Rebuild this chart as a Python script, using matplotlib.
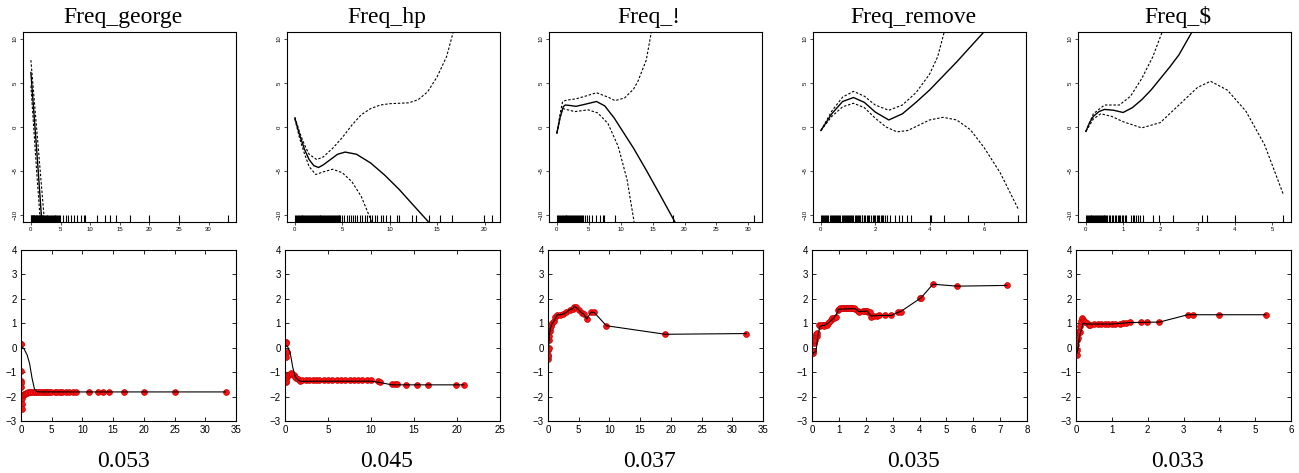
import numpy as np
import matplotlib.pyplot as plt

plt.rcParams['font.family'] = ['Liberation Sans', 'DejaVu Sans']

# panel titles and the score printed under each column
titles = ["Freq_george", "Freq_hp", "Freq_!", "Freq_remove", "Freq_$"]
scores = ["0.053", "0.045", "0.037", "0.035", "0.033"]

# tick positions
top_xticks = [[0, 5, 10, 15, 20, 25, 30], [0, 5, 10, 15, 20], [0, 5, 10, 15, 20, 25, 30],
              [0, 2, 4, 6], [0, 1, 2, 3, 4, 5]]
top_yticks = [-10, -5, 0, 5, 10]
bot_xticks = [[0, 5, 10, 15, 20, 25, 30, 35], [0, 5, 10, 15, 20, 25], [0, 5, 10, 15, 20, 25, 30, 35],
              [0, 1, 2, 3, 4, 5, 6, 7, 8], [0, 1, 2, 3, 4, 5, 6]]
bot_yticks = [-3, -2, -1, 0, 1, 2, 3, 4]

# ---------------- Freq_george ----------------
george_rug = [0.0, 0.08, 0.15, 0.22, 0.3, 0.38, 0.45, 0.52, 0.6, 0.7, 0.8, 0.9, 1.0, 1.1, 1.2, 1.3,
              1.4, 1.5, 1.6, 1.7, 1.8, 1.9, 2.0, 2.12, 2.25, 2.4, 2.52, 2.65, 2.8, 2.95, 3.1, 3.25,
              3.4, 3.55, 3.7, 3.85, 4.0, 4.15, 4.3, 4.45, 4.6, 4.75, 4.9, 5.5, 5.9, 6.3, 6.75, 7.3,
              7.8, 8.4, 9.0, 9.2, 11.1, 12.5, 13.3, 14.3, 16.7, 20.0, 25.0, 33.3]
george_fit_x = [0.0, 0.5, 1.0, 1.5, 1.85]
george_fit_y = [6.2, 1.7, -2.8, -7.5, -10.8]
george_up_x = [0.0, 0.6, 1.2, 1.8, 2.3]
george_up_y = [7.6, 2.8, -2.0, -6.8, -10.8]
george_lo_x = [0.0, 0.5, 1.0, 1.6]
george_lo_y = [4.7, -0.3, -5.3, -10.8]
george_pts_x = [0.0, 0.03, 0.0, 0.02, 0.03, 0.05, 0.05, 0.08, 0.1, 0.1,
                0.15, 0.2, 0.3, 0.45, 0.6, 0.8, 1.0, 1.2, 1.4, 1.6,
                1.9, 2.2, 2.5, 2.8, 3.1, 3.4, 3.7, 4.0, 4.3, 4.6,
                4.9, 5.5, 5.9, 6.3, 6.75, 7.3, 7.8, 8.4, 9.0,
                11.1, 12.5, 13.3, 14.3, 16.7, 20.0, 25.0, 33.3]
george_pts_y = [0.15, 0.15, -0.95, -1.35, -1.45, -1.6, -2.0, -2.15, -2.3, -2.5,
                -2.05, -1.95, -1.92, -1.9, -1.88, -1.86, -1.84, -1.83, -1.82, -1.81,
                -1.8, -1.8, -1.8, -1.8, -1.8, -1.8, -1.8, -1.8, -1.8, -1.8,
                -1.8, -1.8, -1.8, -1.8, -1.8, -1.8, -1.8, -1.8, -1.8,
                -1.8, -1.8, -1.8, -1.8, -1.8, -1.8, -1.8, -1.8]
george_line_x = [0.0, 0.5, 1.0, 1.4, 1.8, 2.2, 2.6, 3.0, 33.3]
george_line_y = [0.05, -0.05, -0.3, -0.65, -1.25, -1.7, -1.8, -1.81, -1.81]

# ---------------- Freq_hp ----------------
hp_rug = [0.0, 0.1, 0.2, 0.3, 0.4, 0.5, 0.6, 0.7, 0.8, 0.9, 1.0, 1.1, 1.2, 1.3, 1.4, 1.5, 1.6,
          1.7, 1.8, 1.9, 2.0, 2.1, 2.2, 2.3, 2.4, 2.5, 2.6, 2.7, 2.8, 2.9, 3.0, 3.1, 3.2, 3.3,
          3.4, 3.5, 3.6, 3.7, 3.8, 3.9, 4.0, 4.1, 4.2, 4.3, 4.4, 4.5, 4.6, 4.7, 4.8, 5.0, 5.2,
          5.45, 5.7, 5.9, 6.1, 6.35, 6.6, 6.85, 7.1, 7.4, 7.6, 7.9, 8.1, 8.4, 8.7, 9.1, 9.3,
          9.6, 10.0, 10.8, 11.0, 12.4, 12.8, 14.1, 15.3, 16.6, 19.9, 20.8]
hp_fit_x = [0.0, 0.5, 1.0, 1.5, 2.0, 2.5, 3.0, 3.5, 4.5, 5.3, 6.5, 8.0, 9.5, 11.0, 12.5, 14.1]
hp_fit_y = [1.0, -0.9, -2.5, -3.7, -4.4, -4.6, -4.3, -3.9, -3.1, -2.85, -3.1, -4.1, -5.5, -7.1, -8.9, -10.8]
hp_up_x = [0.0, 0.5, 1.0, 1.5, 2.3, 3.0, 4.0, 5.0, 6.0, 7.0, 8.0, 9.0, 10.0, 11.0, 12.0, 13.0,
           14.0, 15.0, 16.0, 16.7]
hp_up_y = [1.1, -0.6, -2.0, -3.1, -3.7, -3.4, -2.4, -1.2, 0.2, 1.4, 2.1, 2.5, 2.65, 2.7, 2.75,
           3.1, 4.0, 5.7, 8.0, 10.8]
hp_lo_x = [0.0, 0.5, 1.0, 1.5, 2.2, 3.0, 4.0, 5.0, 6.0, 7.0, 7.5, 8.1]
hp_lo_y = [0.9, -1.3, -3.0, -4.5, -5.4, -5.1, -4.8, -5.2, -6.2, -7.9, -9.2, -10.8]
hp_pts_x = [0.0, 0.04, 0.08, 0.12, 0.2, 0.1, 0.05, 0.1, 0.15, 0.25,
            0.4, 0.55, 0.7, 0.85, 1.0, 1.15, 1.3, 1.5, 1.75, 2.0,
            2.4, 2.8, 3.2, 3.6, 4.0, 4.5, 5.0, 5.5, 6.0, 6.5,
            7.0, 7.5, 8.0, 8.5, 9.0, 9.5, 10.0,
            10.8, 11.0, 12.4, 12.8, 13.0, 14.1, 15.3, 16.6, 19.9, 20.8]
hp_pts_y = [0.22, 0.2, 0.22, 0.18, -0.17, -0.4, -1.25, -1.4, -1.35, -1.2,
            -1.12, -1.08, -1.05, -1.08, -1.12, -1.18, -1.25, -1.3, -1.35, -1.33,
            -1.32, -1.32, -1.32, -1.32, -1.32, -1.32, -1.32, -1.32, -1.32, -1.32,
            -1.31, -1.31, -1.31, -1.31, -1.31, -1.31, -1.31,
            -1.38, -1.41, -1.5, -1.5, -1.5, -1.52, -1.52, -1.52, -1.52, -1.52]
hp_line_x = [0.0, 0.3, 0.6, 0.9, 1.2, 1.6, 2.0, 3.0, 10.0, 11.0, 12.0, 12.5, 20.8]
hp_line_y = [0.1, 0.05, -0.2, -0.8, -1.2, -1.35, -1.38, -1.37, -1.37, -1.42, -1.49, -1.52, -1.52]

# ---------------- Freq_! ----------------
excl_rug = [0.0, 0.15, 0.3, 0.45, 0.6, 0.75, 0.9, 1.05, 1.2, 1.35, 1.5, 1.65, 1.8, 1.95, 2.1,
            2.25, 2.4, 2.55, 2.7, 2.85, 3.0, 3.15, 3.3, 3.45, 3.6, 3.75, 3.9, 4.1, 4.4, 4.65,
            5.07, 5.5, 6.05, 6.75, 7.2, 7.4, 9.1, 18.2, 30.9]
excl_fit_x = [0.0, 0.5, 1.0, 1.3, 2.0, 3.0, 4.5, 6.2, 7.5, 9.0, 10.5, 12.0, 14.0, 16.0, 18.5]
excl_fit_y = [-0.7, 1.1, 2.3, 2.5, 2.45, 2.35, 2.6, 2.9, 2.4, 1.0, -0.7, -2.4, -4.9, -7.5, -10.8]
excl_up_x = [0.0, 0.5, 0.9, 1.5, 3.0, 4.9, 6.2, 8.0, 9.1, 10.6, 12.0, 12.7, 14.0, 14.8]
excl_up_y = [-0.7, 1.5, 2.9, 3.05, 3.2, 3.6, 3.9, 3.4, 3.0, 3.3, 4.3, 5.2, 7.6, 10.8]
excl_lo_x = [0.0, 0.5, 0.9, 2.8, 4.9, 6.4, 8.0, 9.6, 11.0, 12.1]
excl_lo_y = [-0.7, 1.0, 2.1, 1.75, 1.95, 1.6, 0.4, -2.2, -6.0, -10.8]
excl_pts_x = [0.0, 0.02, 0.05, 0.08, 0.1, 0.15, 0.2, 0.3, 0.4, 0.5, 0.7, 1.0, 1.2, 1.5, 2.0,
              2.5, 3.0, 3.5, 4.0, 4.3, 4.6, 5.0, 5.5, 5.8, 6.3, 7.0, 7.5, 9.5, 19.1, 32.3]
excl_pts_y = [-0.45, -0.35, -0.3, -0.1, 0.0, 0.3, 0.5, 0.7, 0.8, 0.9, 1.0, 1.1, 1.25, 1.35, 1.35,
              1.38, 1.45, 1.55, 1.6, 1.68, 1.65, 1.55, 1.42, 1.38, 1.18, 1.45, 1.45, 0.9, 0.55, 0.58]
excl_line_x = [0.0, 0.1, 0.2, 0.4, 0.7, 1.0, 1.5, 2.0, 2.5, 3.0, 3.5, 4.0, 4.3, 4.6, 5.0, 5.5,
               5.8, 6.3, 7.0, 7.5, 9.5, 19.1, 32.3]
excl_line_y = [-0.45, 0.0, 0.5, 0.8, 1.0, 1.1, 1.35, 1.35, 1.38, 1.45, 1.55, 1.6, 1.68, 1.65,
               1.55, 1.42, 1.38, 1.18, 1.45, 1.45, 0.9, 0.55, 0.58]

# ---------------- Freq_remove ----------------
remove_rug = [0.0, 0.04, 0.08, 0.12, 0.16, 0.2, 0.24, 0.28, 0.32, 0.36, 0.4, 0.44, 0.48, 0.52,
              0.56, 0.6, 0.64, 0.68, 0.72, 0.76, 0.8, 0.84, 0.88, 0.92, 0.96, 1.0, 1.04, 1.08,
              1.12, 1.16, 1.2, 1.24, 1.28, 1.32, 1.36, 1.4, 1.45, 1.5, 1.53, 1.58, 1.62, 1.68,
              1.72, 1.78, 1.85, 1.9, 1.95, 2.0, 2.05, 2.1, 2.15, 2.2, 2.25, 2.3, 2.35, 2.45,
              2.55, 2.72, 2.88, 3.0, 3.16, 3.3, 4.0, 4.05, 4.54, 5.4, 7.26]
remove_fit_x = [0.0, 0.4, 0.8, 1.2, 1.6, 2.0, 2.5, 3.0, 3.5, 4.0, 4.5, 5.0, 5.5, 6.0]
remove_fit_y = [-0.4, 1.5, 2.9, 3.35, 2.8, 1.7, 0.8, 1.5, 2.8, 4.2, 5.8, 7.4, 9.1, 10.8]
remove_up_x = [0.0, 0.4, 0.8, 1.2, 1.6, 2.0, 2.5, 3.0, 3.5, 4.0, 4.3, 4.54]
remove_up_y = [-0.4, 1.8, 3.4, 4.05, 3.5, 2.5, 1.9, 2.5, 3.9, 6.0, 8.0, 10.8]
remove_lo_x = [0.0, 0.4, 0.8, 1.2, 1.6, 2.0, 2.4, 2.8, 3.2, 3.6, 4.0, 4.5, 5.0, 5.5, 6.0, 6.6, 7.26]
remove_lo_y = [-0.4, 1.2, 2.3, 2.7, 2.2, 1.0, 0.0, -0.55, -0.4, 0.2, 0.8, 1.1, 0.8, -0.3, -2.3, -5.2, -9.3]
remove_pts_x = [0.0, 0.02, 0.05, 0.08, 0.1, 0.12, 0.15, 0.18, 0.2, 0.25,
                0.3, 0.4, 0.5, 0.6, 0.7, 0.75, 0.8, 0.9, 0.95, 1.0,
                1.1, 1.2, 1.3, 1.4, 1.5, 1.6, 1.7, 1.75, 1.9, 2.0,
                2.1, 2.2, 2.3, 2.4, 2.5, 2.7, 2.95, 3.2, 3.3, 4.0,
                4.05, 4.5, 5.4, 7.25, 0.35, 0.45, 0.55, 0.65, 1.05, 1.15,
                1.25, 1.35, 1.45, 1.55, 1.95, 2.05, 2.15]
remove_pts_y = [-0.2, -0.2, -0.15, 0.2, 0.45, 0.3, 0.55, 0.5, 0.6, 0.95,
                0.9, 0.92, 0.93, 1.0, 1.15, 1.2, 1.22, 1.25, 1.55, 1.6,
                1.62, 1.62, 1.62, 1.62, 1.62, 1.6, 1.5, 1.45, 1.5, 1.5,
                1.48, 1.25, 1.28, 1.3, 1.32, 1.32, 1.32, 1.45, 1.45, 2.02,
                2.05, 2.6, 2.52, 2.55, 0.92, 0.9, 0.95, 1.05, 1.62, 1.62,
                1.62, 1.62, 1.62, 1.62, 1.5, 1.5, 1.48]
remove_line_x = [0.0, 0.15, 0.22, 0.3, 0.5, 0.65, 0.8, 0.9, 1.0, 1.6, 1.75, 2.05, 2.2, 2.5,
                 2.95, 3.2, 3.3, 4.0, 4.05, 4.5, 5.4, 7.25]
remove_line_y = [-0.25, -0.15, 0.5, 0.88, 0.93, 1.05, 1.2, 1.35, 1.58, 1.6, 1.48, 1.5, 1.3,
                 1.32, 1.32, 1.45, 1.48, 2.0, 2.03, 2.6, 2.52, 2.55]

# ---------------- Freq_$ ----------------
dollar_rug = [0.0, 0.025, 0.05, 0.075, 0.1, 0.125, 0.15, 0.175, 0.2, 0.225, 0.25, 0.275, 0.3,
              0.325, 0.35, 0.375, 0.4, 0.425, 0.45, 0.475, 0.5, 0.525, 0.55, 0.58, 0.62, 0.65,
              0.7, 0.73, 0.78, 0.82, 0.85, 0.9, 0.93, 0.97, 1.0, 1.04, 1.07, 1.22, 1.26, 1.3,
              1.35, 1.4, 1.45, 1.54, 1.8, 1.97, 2.33, 3.12, 3.26, 4.0, 5.3]
dollar_fit_x = [0.0, 0.1, 0.2, 0.35, 0.5, 0.75, 1.0, 1.25, 1.5, 1.75, 2.0, 2.25, 2.5, 2.85]
dollar_fit_y = [-0.5, 0.5, 1.2, 1.75, 2.0, 1.9, 1.65, 2.2, 3.1, 4.2, 5.5, 6.8, 8.2, 10.8]
dollar_up_x = [0.0, 0.2, 0.5, 0.9, 1.2, 1.5, 1.8, 2.05]
dollar_up_y = [-0.5, 1.5, 2.5, 2.5, 3.5, 5.5, 8.0, 10.8]
dollar_lo_x = [0.0, 0.2, 0.4, 0.7, 1.0, 1.5, 2.0, 2.5, 3.0, 3.35, 3.8, 4.3, 4.8, 5.3]
dollar_lo_y = [-0.5, 0.9, 1.5, 1.2, 0.6, -0.1, 0.5, 2.5, 4.5, 5.2, 4.2, 1.8, -2.0, -7.6]
dollar_pts_x = [0.0, 0.01, 0.02, 0.03, 0.04, 0.05, 0.06, 0.08, 0.1, 0.12,
                0.15, 0.17, 0.19, 0.21, 0.25, 0.3, 0.35, 0.4, 0.5, 0.6,
                0.7, 0.8, 0.9, 1.0, 1.1, 1.22, 1.3, 1.4, 1.5, 1.8,
                1.97, 2.33, 3.12, 3.26, 4.0, 5.3]
dollar_pts_y = [-0.25, 0.1, -0.3, 0.3, -0.1, 0.6, 0.4, 0.7, 0.65, 0.9,
                1.1, 1.2, 1.15, 1.1, 1.05, 1.0, 0.95, 0.95, 0.97, 0.98,
                0.97, 0.97, 0.97, 0.97, 0.97, 0.98, 1.0, 1.03, 1.05, 1.05,
                1.05, 1.05, 1.35, 1.35, 1.35, 1.35]
dollar_line_x = [0.0, 0.05, 0.1, 0.2, 0.3, 1.0, 1.5, 2.33, 3.12, 5.3]
dollar_line_y = [-0.3, -0.1, 0.5, 1.0, 0.97, 0.97, 1.03, 1.05, 1.35, 1.35]

rugs = [george_rug, hp_rug, excl_rug, remove_rug, dollar_rug]
fits = [(george_fit_x, george_fit_y), (hp_fit_x, hp_fit_y), (excl_fit_x, excl_fit_y),
        (remove_fit_x, remove_fit_y), (dollar_fit_x, dollar_fit_y)]
uppers = [(george_up_x, george_up_y), (hp_up_x, hp_up_y), (excl_up_x, excl_up_y),
          (remove_up_x, remove_up_y), (dollar_up_x, dollar_up_y)]
lowers = [(george_lo_x, george_lo_y), (hp_lo_x, hp_lo_y), (excl_lo_x, excl_lo_y),
          (remove_lo_x, remove_lo_y), (dollar_lo_x, dollar_lo_y)]
points = [(george_pts_x, george_pts_y), (hp_pts_x, hp_pts_y), (excl_pts_x, excl_pts_y),
          (remove_pts_x, remove_pts_y), (dollar_pts_x, dollar_pts_y)]
lines = [(george_line_x, george_line_y), (hp_line_x, hp_line_y), (excl_line_x, excl_line_y),
         (remove_line_x, remove_line_y), (dollar_line_x, dollar_line_y)]

W, H = 1299, 473
fig = plt.figure(figsize=(W / 100, H / 100), dpi=100)


def box(left, top, width, height):
    # axes placed in pixel coordinates measured from the top left corner
    return fig.add_axes([left / W, 1 - (top + height) / H, width / W, height / H])


top_left = [23, 287, 549, 813, 1078]
bot_left = [21, 285, 548, 812, 1076]
dash = (0, (2.2, 1.6))

for i in range(5):
    # ---- top row: smooth term with confidence band and rug (R style)
    ax = box(top_left[i], 32, 213, 190)
    xmax = max(rugs[i])
    ax.set_xlim(-0.04 * xmax, 1.04 * xmax)
    ax.set_ylim(-10.8, 10.8)
    ax.plot(*fits[i], color='black', lw=1.0)
    ax.plot(*uppers[i], color='black', lw=0.8, ls=dash)
    ax.plot(*lowers[i], color='black', lw=0.8, ls=dash)
    ax.vlines(rugs[i], 0, 0.035, transform=ax.get_xaxis_transform(), color='black', lw=0.8)
    ax.set_xticks(top_xticks[i])
    ax.set_yticks(top_yticks)
    ax.tick_params(labelsize=4.3, length=2.2, width=0.5, pad=1.5)
    for lab in ax.get_yticklabels():
        lab.set_rotation(90)
        lab.set_va('center')
    for s in ax.spines.values():
        s.set_linewidth(0.8)

    fig.text((top_left[i] + 106 - 6) / W, 1 - 23 / H, titles[i], family='Liberation Serif',
             fontsize=17, ha='center', va='baseline')

    # ---- bottom row: partial dependence points (gnuplot style)
    bx = box(bot_left[i], 250, 215, 171)
    bx.set_xlim(bot_xticks[i][0], bot_xticks[i][-1])
    bx.set_ylim(-3, 4)
    bx.plot(*lines[i], color='black', lw=0.8, zorder=3)
    bx.plot(*points[i], ls='none', marker='o', ms=4.2, mfc='#ff1010', mec='#c80000',
            mew=0.5, zorder=2)
    bx.set_xticks(bot_xticks[i])
    bx.set_yticks(bot_yticks)
    bx.tick_params(direction='in', top=True, right=True, labelsize=7, length=3,
                   width=0.6, pad=3, colors='black')
    for s in bx.spines.values():
        s.set_linewidth(0.8)

    fig.text((bot_left[i] + 107 - 5) / W, 1 - 467 / H, scores[i], family='Liberation Serif',
             fontsize=17, ha='center', va='baseline')

fig.savefig('out.png', dpi=100)
